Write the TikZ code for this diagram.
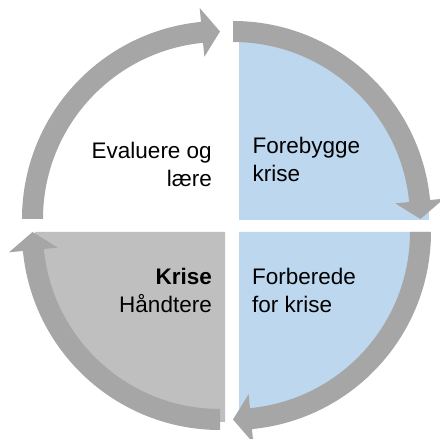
\documentclass[tikz,border=0pt]{standalone}
\usepackage{fontspec}
\setmainfont{Liberation Sans}
\definecolor{arrowgray}{RGB}{166,166,166}
\definecolor{quadblue}{RGB}{189,215,238}
\definecolor{quadgray}{RGB}{191,191,191}
\tikzset{
  ring/.style={fill=arrowgray},
  label/.style={inner sep=0pt,font=\fontsize{22.5}{28.5}\selectfont}
}
\begin{document}
\begin{tikzpicture}[x=1pt,y=1pt]
\useasboundingbox (0,0) rectangle (440,439);

% quarter fills
\fill[quadblue] (239,219) -- ++(0,190) arc[start angle=90,end angle=0,radius=190] -- cycle;
\fill[quadblue] (239,207) -- ++(190,0) arc[start angle=0,end angle=-90,radius=190] -- cycle;
\fill[quadgray] (225,207) -- ++(0,-190) arc[start angle=-90,end angle=-180,radius=190] -- cycle;

% circular arrows
\fill[ring,shift={(233,220)}] (90:198) arc[start angle=90,end angle=5.5,radius=198] -- (5.5:212) -- (0:187.5) -- (5.5:163) -- (5.5:177) arc[start angle=5.5,end angle=90,radius=177] -- cycle;
\fill[ring,shift={(233,207)},rotate=-90] (90:198) arc[start angle=90,end angle=5.5,radius=198] -- (5.5:212) -- (0:187.5) -- (5.5:163) -- (5.5:177) arc[start angle=5.5,end angle=90,radius=177] -- cycle;
\fill[ring,shift={(220,207)},rotate=-180] (90:198) arc[start angle=90,end angle=5.5,radius=198] -- (5.5:212) -- (0:187.5) -- (5.5:163) -- (5.5:177) arc[start angle=5.5,end angle=90,radius=177] -- cycle;
\fill[ring,shift={(220,220)},rotate=-270] (90:198) arc[start angle=90,end angle=5.5,radius=198] -- (5.5:212) -- (0:187.5) -- (5.5:163) -- (5.5:177) arc[start angle=5.5,end angle=90,radius=177] -- cycle;

% texts (anchored on the last line)
\node[label,align=right,anchor=base east] (evaluere) at (212,252) {Evaluere og\\lære};
\node[label,align=left,anchor=base west] (forebygge) at (252.5,257) {Forebygge\\krise};
\node[label,align=right,anchor=base east] (krise) at (212,126) {\textbf{Krise}\\Håndtere};
\node[label,align=left,anchor=base west] (forberede) at (252,126) {Forberede\\for krise};
\end{tikzpicture}
\end{document}
